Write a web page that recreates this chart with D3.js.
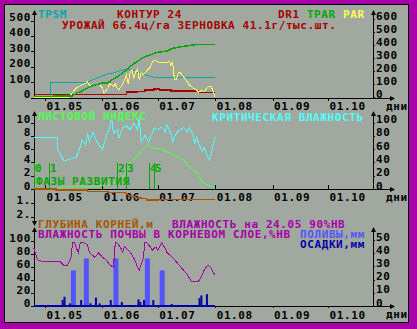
<!DOCTYPE html>
<html>
<head>
<meta charset="utf-8">
<script src="https://cdn.jsdelivr.net/npm/d3@7"></script>
<style>
  body { margin: 0; background: #a800a8; }
  svg { display: block; }
  text { font-family: "DejaVu Sans Mono", monospace; font-weight: bold; font-size: 11px; letter-spacing: 0.6px; }
</style>
</head>
<body>
<div id="chart"></div>
<script>
// x axis: days counted from 01.05
const monthDays = [0, 31, 61, 92, 123, 153];
const monthLabels = ["01.05", "01.06", "01.07", "01.08", "01.09", "01.10"];

// panel 1 — TPSM on the left scale, DR1 / TPAR / PAR on the right scale
const ticksTop = [0, 100, 200, 300, 400, 500];
const ticksTopRight = [0, 100, 200, 300, 400, 500, 600];
const tpsm = [[-6,0],[3,0],[3,100],[23,100],[25,112],[28,125],[31,140],[34,152],[37,160],[40,172],[44,185],[48,175],[51,160],[56,140],[59,131],[92,131]];
const tpar = [[-6,5],[4,5],[5,8],[15,8],[17,31],[19,38],[22,62],[24,77],[27,92],[31,108],[34,108],[36,131],[39,154],[42,185],[44,208],[46,235],[48,255],[50,275],[52,295],[55,315],[57,323],[59,338],[62,346],[66,354],[68,369],[70,377],[73,385],[76,392],[81,402],[92,402]];
const dr1 = [[-6,20],[44,38],[50,42],[54,52],[59,60],[62,52],[68,45],[83,36],[92,36]];
const par = [[-6,0],[13,0],[15,38],[17,69],[19,85],[21,100],[23,115],[24,92],[26,85],[28,100],[30,85],[31,69],[32,31],[34,69],[35,100],[37,85],[38,100],[39,69],[40,54],[42,100],[43,131],[44,169],[45,100],[46,192],[47,208],[48,146],[49,192],[50,215],[51,131],[52,192],[53,170],[54,185],[57,231],[58,269],[59,285],[61,269],[62,262],[64,269],[66,262],[67,277],[68,246],[69,269],[70,131],[71,131],[72,185],[73,192],[74,169],[75,154],[77,115],[78,92],[80,69],[82,54],[83,38],[85,54],[86,38],[88,77],[90,77],[91,38],[92,0]];

// panel 2 — leaf index (left), critical moisture (right), root depth (down), phases
const ticksMid = [0, 2, 4, 6, 8, 10];
const ticksMidRight = [0, 20, 40, 60, 80, 100];
const ticksRoot = [1, 2];
const leafIndex = [[-6,0.1],[8,0.1],[10,0.35],[28,0.35],[33,0.6],[39,1.05],[42,1.65],[44,2.6],[46,3.9],[49,4.7],[51,5.4],[54,6.3],[56,6.6],[58,6.2],[59,6.2],[63,6.0],[66,5.6],[69,5.1],[72,4.8],[75,4.4],[77,3.6],[80,2.9],[82,2.4],[84,1.65],[85,1.05],[88,0.6],[91,0.15],[92,0]];
const critMoisture = [[-6,78],[7,78],[7,59],[10,43],[13,44],[17,48],[19,63],[20,74],[22,66],[23,84],[24,71],[26,86],[28,71],[30,63],[31,59],[33,78],[34,86],[35,93],[36,108],[37,84],[39,89],[40,77],[42,92],[44,95],[46,89],[48,99],[50,89],[51,108],[52,69],[54,81],[56,71],[58,84],[59,92],[61,89],[63,93],[65,86],[66,96],[68,84],[69,71],[71,84],[73,89],[75,92],[77,86],[78,93],[80,81],[81,69],[82,78],[83,69],[85,56],[86,63],[87,54],[89,44],[90,54],[91,69],[92,78]];
const rootDepth = [[-6,0],[6,0],[6,0.07],[23,0.07],[23,0.19],[34,0.19],[34,0.25],[43,0.25],[46,0.5],[51,0.64],[55,0.7],[55,0.78],[61,0.78],[61,0.74],[92,0.74]];
const phaseDays = [-6, 2, 39, 44, 56, 59];
const phaseLabels = ["0", "1", "2", "3", "4", "5"];

// panel 3 — soil moisture (left), irrigation and rain (right)
const ticksBot = [0, 20, 40, 60, 80, 100];
const ticksBotRight = [0, 10, 20, 30, 40, 50];
const soilMoisture = [[-6,89],[-4,71],[-2,69],[8,69],[10,63],[12,62],[14,74],[15,98],[16,97],[17,89],[18,82],[19,97],[21,97],[23,94],[24,82],[27,75],[29,82],[31,75],[33,71],[35,63],[37,60],[38,97],[39,97],[41,89],[42,83],[43,91],[46,83],[48,74],[50,60],[51,55],[53,72],[54,97],[55,97],[57,91],[58,86],[60,91],[61,86],[63,97],[65,89],[66,82],[69,75],[71,68],[74,58],[77,48],[79,38],[83,38],[85,48],[86,55],[88,63],[90,58],[91,51],[92,48]];
const irrigationDays = [14, 21, 37, 54, 62];
const irrigationMm = [27, 36, 36, 36, 27];
const rainDays = [9, 10, 13, 19, 24, 27, 29, 35, 41, 50, 51, 53, 58, 68, 83, 84, 87];
const rainMm = [4.5, 7, 2, 4.5, 2, 6.3, 2, 4.5, 3, 5, 3, 4.5, 4.5, 1.5, 6, 8, 9];

const C = {
  frame: "#a800a8", bg: "#a0a8a0", red: "#a80000", teal: "#00a8a8", green: "#00a800",
  yellow: "#fcfc54", cyan: "#54fcfc", lime: "#54fc54", brown: "#a85400",
  blue: "#5454fc", navy: "#0000a8", magenta: "#a800a8"
};

const W = 417, H = 329;
const svg = d3.select("#chart").append("svg").attr("width", W).attr("height", H);

svg.append("rect").attr("width", W).attr("height", H).attr("fill", C.frame);
svg.append("rect").attr("x", 4.5).attr("y", 4.5).attr("width", 404).attr("height", 318)
  .attr("fill", C.bg).attr("stroke", "#000");

const axisX = 34, axisXR = 373, xEnd = 393;
const x = d3.scaleLinear().domain([0, 153]).range([45, 328]);

const yTop = d3.scaleLinear().domain([0, 500]).range([97.5, 20.5]);
const yTopR = d3.scaleLinear().domain([0, 600]).range([97, 19]);
const yMid = d3.scaleLinear().domain([0, 10]).range([189, 122.5]);
const yMidR = d3.scaleLinear().domain([0, 100]).range([189, 122.5]);
const yRoot = d3.scaleLinear().domain([0, 2]).range([189, 217]);
const yBot = d3.scaleLinear().domain([0, 100]).range([306, 241]);
const yBotR = d3.scaleLinear().domain([0, 50]).range([306, 240]);

// axes
function cleanAxis(g) {
  g.attr("font-family", null).attr("font-size", null);
  g.select(".domain").remove();
  g.selectAll("line").attr("stroke", "#000").attr("shape-rendering", "crispEdges");
  g.selectAll("text").attr("fill", "#000");
}

function sideAxes(yl, yr, tl, tr, top, bottom) {
  svg.append("g").attr("transform", `translate(${axisX},0)`)
    .call(d3.axisLeft(yl).tickValues(tl).tickSize(3).tickPadding(0))
    .call(cleanAxis).selectAll("text").attr("dy", 0);
  svg.append("g").attr("transform", `translate(${axisXR},0)`)
    .call(d3.axisRight(yr).tickValues(tr).tickSize(2).tickPadding(1))
    .call(cleanAxis).selectAll("text").attr("dy", 0);
  [axisX, axisXR].forEach(ax => {
    svg.append("line").attr("x1", ax + 0.5).attr("x2", ax + 0.5).attr("y1", top).attr("y2", bottom)
      .attr("stroke", "#000");
    svg.append("path").attr("d", `M${ax + 0.5},${top - 2}l-2.5,5h5z`).attr("fill", "#000");
  });
}

function bottomAxis(y, inner, pad) {
  svg.append("g").attr("transform", `translate(0,${y})`)
    .call(d3.axisBottom(x).tickValues(monthDays).tickFormat((d, i) => monthLabels[i])
      .tickSizeInner(inner).tickSizeOuter(0).tickPadding(pad))
    .call(cleanAxis).selectAll("text").attr("text-anchor", "start").attr("dx", 1);
  svg.append("line").attr("x1", axisX).attr("x2", xEnd).attr("y1", y + 0.5).attr("y2", y + 0.5)
    .attr("stroke", "#000");
  svg.append("path").attr("d", `M${xEnd + 2},${y + 0.5}l-5,-2.5v5z`).attr("fill", "#000");
  svg.append("text").attr("x", 386).attr("y", y + 12).attr("fill", "#000").text("дни");
}

sideAxes(yTop, yTopR, ticksTop, ticksTopRight, 12, 98);
bottomAxis(98, 3, 1);

sideAxes(yMid, yMidR, ticksMid, ticksMidRight, 113, 189);
bottomAxis(189, -4, 4);
// root depth axis hangs below the middle panel
svg.append("g").attr("transform", `translate(${axisX},0)`)
  .call(d3.axisLeft(yRoot).tickValues(ticksRoot).tickSize(3).tickPadding(0).tickFormat(d => d + "."))
  .call(cleanAxis).selectAll("text").attr("dy", 0);
svg.append("line").attr("x1", axisX + 0.5).attr("x2", axisX + 0.5).attr("y1", 189).attr("y2", 224)
  .attr("stroke", "#000");
svg.append("path").attr("d", `M${axisX + 0.5},${226}l-2.5,-5h5z`).attr("fill", "#000");

sideAxes(yBot, yBotR, ticksBot, ticksBotRight, 229, 306);
bottomAxis(306, 2, 3);

// series helpers
function drawLine(data, y, color, width, curve) {
  svg.append("path").datum(data)
    .attr("d", d3.line().x(d => x(d[0])).y(d => y(d[1])).curve(curve || d3.curveLinear))
    .attr("fill", "none").attr("stroke", color).attr("stroke-width", width || 1)
    .attr("shape-rendering", "crispEdges");
}

// panel 1
drawLine(dr1, yTopR, C.red, 1.5, d3.curveStepAfter);
drawLine(tpsm, yTop, C.teal, 1);
drawLine(par, yTopR, C.yellow, 1);
drawLine(tpar, yTopR, C.green, 1.5);

// panel 2
drawLine(critMoisture, yMidR, C.cyan, 1);
drawLine(leafIndex, yMid, C.lime, 1);
drawLine(rootDepth, yRoot, C.brown, 1.5);

const phases = svg.append("g");
phases.selectAll("line").data(phaseDays).join("line")
  .attr("x1", d => Math.round(x(d)) + 0.5).attr("x2", d => Math.round(x(d)) + 0.5)
  .attr("y1", yMid(0)).attr("y2", yMid(0) - 26)
  .attr("stroke", C.green);
phases.selectAll("text").data(phaseDays).join("text")
  .attr("x", d => Math.round(x(d)) + 1).attr("y", yMid(0) - 17)
  .attr("fill", C.green).text((d, i) => phaseLabels[i]);

// panel 3
svg.append("g").selectAll("rect").data(irrigationDays).join("rect")
  .attr("x", d => x(d)).attr("width", 5)
  .attr("y", (d, i) => yBotR(irrigationMm[i]))
  .attr("height", (d, i) => yBotR(0) - yBotR(irrigationMm[i]))
  .attr("fill", C.blue);
svg.append("g").selectAll("rect").data(rainDays).join("rect")
  .attr("x", d => x(d)).attr("width", 2)
  .attr("y", (d, i) => yBotR(rainMm[i]))
  .attr("height", (d, i) => yBotR(0) - yBotR(rainMm[i]))
  .attr("fill", C.navy);
drawLine([[-6, 0], [92, 0]], yBotR, C.navy, 1.5);
drawLine(soilMoisture, yBot, C.magenta, 1);

// labels
function label(tx, ty, color, str) {
  svg.append("text").attr("x", tx).attr("y", ty).attr("fill", color).text(str);
}
label(38, 18, C.teal, "TPSM");
label(117, 18, C.red, "КОНТУР 24");
const legendTop = svg.append("text").attr("x", 278).attr("y", 18);
legendTop.append("tspan").attr("fill", C.red).text("DR1 ");
legendTop.append("tspan").attr("fill", C.green).text("TPAR ");
legendTop.append("tspan").attr("fill", C.yellow).text("PAR");
label(62, 29, C.red, "УРОЖАЙ 66.4ц/га  ЗЕРНОВКА 41.1г/тыс.шт.");

label(38, 120, C.lime, "ЛИСТОВОЙ ИНДЕКС");
label(212, 121, C.cyan, "КРИТИЧЕСКАЯ ВЛАЖНОСТЬ");
label(36, 185, C.green, "ФАЗЫ РАЗВИТИЯ");

label(38, 228, C.brown, "ГЛУБИНА КОРНЕЙ,м");
label(172, 228, C.magenta, "ВЛАЖНОСТЬ на 24.05 90%НВ");
label(38, 238, C.magenta, "ВЛАЖНОСТЬ ПОЧВЫ В КОРНЕВОМ СЛОЕ,%НВ");
label(300, 238, C.blue, "ПОЛИВЫ,мм");
label(300, 248, C.navy, "ОСАДКИ,мм");
</script>
</body>
</html>
